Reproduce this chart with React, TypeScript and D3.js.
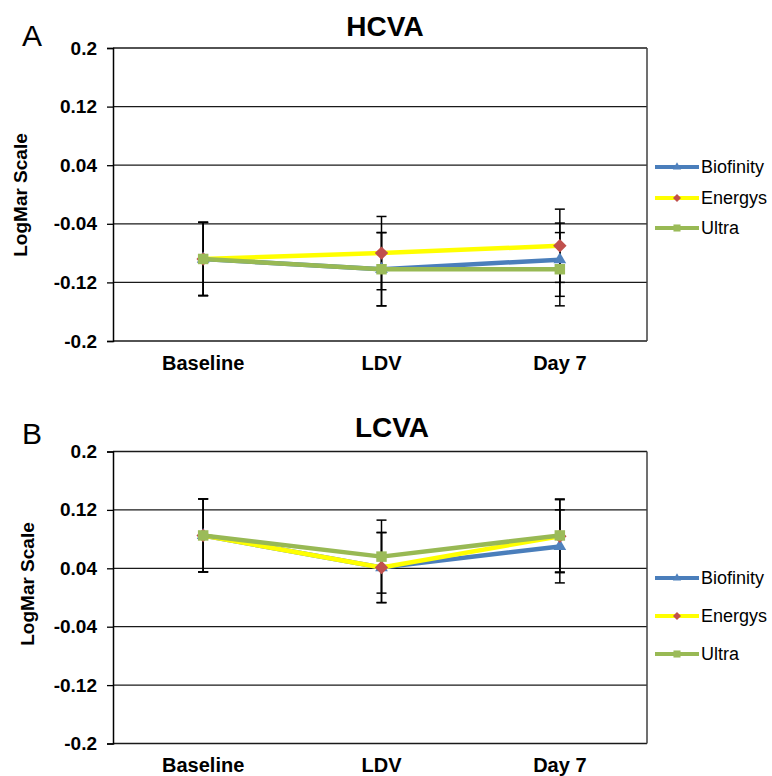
import React, { useRef, useEffect } from "react";
import * as d3 from "d3";

// categories / series
const categories = ["Baseline", "LDV", "Day 7"];
const seriesNames = ["Biofinity", "Energys", "Ultra"];
const yTicks = [0.2, 0.12, 0.04, -0.04, -0.12, -0.2];
const yTickLabels = ["0.2", "0.12", "0.04", "-0.04", "-0.12", "-0.2"];

// HCVA (panel A)
const hcvaBiofinity = [-0.088, -0.102, -0.089];
const hcvaEnergys = [-0.088, -0.08, -0.07];
const hcvaUltra = [-0.088, -0.102, -0.102];
const hcvaBiofinityErr = [0.05, 0.05, 0.05];
const hcvaEnergysErr = [0.05, 0.05, 0.05];
const hcvaUltraErr = [0.05, 0.05, 0.05];

// LCVA (panel B)
const lcvaBiofinity = [0.085, 0.041, 0.07];
const lcvaEnergys = [0.085, 0.041, 0.084];
const lcvaUltra = [0.085, 0.056, 0.085];
const lcvaBiofinityErr = [0.05, 0.048, 0.05];
const lcvaEnergysErr = [0.05, 0.048, 0.05];
const lcvaUltraErr = [0.05, 0.05, 0.05];

const FONT = "'Liberation Sans', Arial, sans-serif";

// diamond = square turned 45deg (d3's symbolDiamond is too narrow)
const styles = {
  Biofinity: { line: "#4A7EBB", marker: "#4F81BD", symbol: d3.symbolTriangle, size: 70, legendSize: 30, rot: 0 },
  Energys: { line: "#FFFF00", marker: "#C0504D", symbol: d3.symbolSquare, size: 90, legendSize: 32, rot: 45 },
  Ultra: { line: "#98B954", marker: "#9BBB59", symbol: d3.symbolSquare, size: 110, legendSize: 50, rot: 0 },
};

const App = () => {
  const svgRef = useRef(null);

  useEffect(() => {
    const svg = d3.select(svgRef.current);
    svg.selectAll("*").remove();

    const panels = [
      {
        letter: "A", title: "HCVA", top: 48, bottom: 341,
        letterY: 46, titleX: 385, titleY: 36, labelX: 20, labelY: 195, xLabelY: 370,
        legendY: [167, 198, 228],
        values: [hcvaBiofinity, hcvaEnergys, hcvaUltra],
        errors: [hcvaBiofinityErr, hcvaEnergysErr, hcvaUltraErr],
      },
      {
        letter: "B", title: "LCVA", top: 451.5, bottom: 743.5,
        letterY: 444, titleX: 392, titleY: 437, labelX: 27, labelY: 584, xLabelY: 772,
        legendY: [578, 616, 654],
        values: [lcvaBiofinity, lcvaEnergys, lcvaUltra],
        errors: [lcvaBiofinityErr, lcvaEnergysErr, lcvaUltraErr],
      },
    ];

    const left = 113;
    const right = 647;

    const x = d3.scalePoint().domain(categories).range([left + 1, right + 2]).padding(0.5);

    panels.forEach((p) => {
      const y = d3.scaleLinear().domain([-0.2, 0.2]).range([p.bottom, p.top]);
      const g = svg.append("g");

      // panel letter + title
      g.append("text")
        .attr("x", 22).attr("y", p.letterY)
        .style("font-family", FONT).style("font-size", "30px")
        .text(p.letter);
      g.append("text")
        .attr("x", p.titleX).attr("y", p.titleY)
        .attr("text-anchor", "middle")
        .style("font-family", FONT).style("font-size", "28px").style("font-weight", "bold")
        .text(p.title);

      // gridlines
      g.selectAll(".grid")
        .data(yTicks)
        .join("line")
        .attr("x1", left).attr("x2", right)
        .attr("y1", (d) => y(d)).attr("y2", (d) => y(d))
        .attr("stroke", "#1a1a1a").attr("stroke-width", 1.3);

      // right border of plot area
      g.append("line")
        .attr("x1", right).attr("x2", right)
        .attr("y1", p.top).attr("y2", p.bottom)
        .attr("stroke", "#404040").attr("stroke-width", 1.5);

      // y axis
      const yAxis = g.append("g")
        .attr("transform", `translate(${left},0)`)
        .call(
          d3.axisLeft(y).tickValues(yTicks).tickSize(6).tickPadding(10)
            .tickFormat((d, i) => yTickLabels[i])
        );
      yAxis.select(".domain").attr("stroke", "#000").attr("stroke-width", 1.5);
      yAxis.selectAll(".tick line").attr("stroke", "#000").attr("stroke-width", 1.3);
      yAxis.selectAll(".tick text")
        .attr("fill", "#000")
        .style("font-family", FONT).style("font-size", "19px").style("font-weight", "bold");

      // y label
      g.append("text")
        .attr("transform", `translate(${p.labelX},${p.labelY}) rotate(-90)`)
        .attr("text-anchor", "middle").attr("dy", "0.35em")
        .style("font-family", FONT).style("font-size", "19px").style("font-weight", "bold")
        .text("LogMar Scale");

      // x labels
      g.selectAll(".xl")
        .data(categories)
        .join("text")
        .attr("x", (d) => x(d)).attr("y", p.xLabelY)
        .attr("text-anchor", "middle")
        .style("font-family", FONT).style("font-size", "20px").style("font-weight", "bold")
        .text((d) => d);

      // error bars
      seriesNames.forEach((name, si) => {
        const vals = p.values[si];
        const errs = p.errors[si];
        categories.forEach((c, ci) => {
          const cx = x(c);
          const hi = y(vals[ci] + errs[ci]);
          const lo = y(vals[ci] - errs[ci]);
          g.append("line").attr("x1", cx).attr("x2", cx).attr("y1", hi).attr("y2", lo)
            .attr("stroke", "#000").attr("stroke-width", 1.5);
          [hi, lo].forEach((yy) => {
            g.append("line").attr("x1", cx - 5).attr("x2", cx + 5).attr("y1", yy).attr("y2", yy)
              .attr("stroke", "#000").attr("stroke-width", 1.5);
          });
        });
      });

      // lines + markers
      const line = d3.line().x((d) => x(d[0])).y((d) => y(d[1]));
      seriesNames.forEach((name, si) => {
        const st = styles[name];
        const pts = categories.map((c, ci) => [c, p.values[si][ci]]);
        g.append("path")
          .datum(pts)
          .attr("fill", "none")
          .attr("stroke", st.line)
          .attr("stroke-width", 4.5)
          .attr("stroke-linejoin", "round")
          .attr("d", line);
        g.selectAll(`.m${si}`)
          .data(pts)
          .join("path")
          .attr("transform", (d) => `translate(${x(d[0])},${y(d[1])}) rotate(${st.rot})`)
          .attr("d", d3.symbol().type(st.symbol).size(st.size))
          .attr("fill", st.marker);
      });

      // legend
      seriesNames.forEach((name, si) => {
        const st = styles[name];
        const ly = p.legendY[si];
        g.append("line").attr("x1", 655).attr("x2", 699).attr("y1", ly).attr("y2", ly)
          .attr("stroke", st.line).attr("stroke-width", 4);
        g.append("path")
          .attr("transform", `translate(677,${ly}) rotate(${st.rot})`)
          .attr("d", d3.symbol().type(st.symbol).size(st.legendSize))
          .attr("fill", st.marker);
        g.append("text")
          .attr("x", 701).attr("y", ly).attr("dy", "0.35em")
          .style("font-family", FONT).style("font-size", "18px")
          .text(name);
      });
    });
  }, []);

  return (
    <svg
      ref={svgRef}
      width={772}
      height={776}
      style={{ position: "absolute", left: 0, top: 0, background: "#fff" }}
    ></svg>
  );
};

export default App;
